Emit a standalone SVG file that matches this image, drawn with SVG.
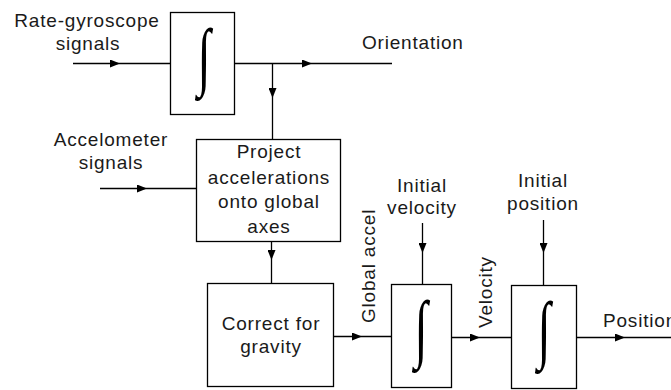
<svg xmlns="http://www.w3.org/2000/svg" width="671" height="390" viewBox="0 0 671 390">
<defs>
<style>
.box{fill:#fff;stroke:#000;stroke-width:1.3}
.ln{fill:none;stroke:#000;stroke-width:1.3;marker-mid:url(#ah)}
.t{font-family:"Liberation Sans",Arial,sans-serif;font-size:19px;letter-spacing:0.8px;fill:#1a1a1a}
.c{text-anchor:middle}
.int{font-family:"Liberation Serif","DejaVu Serif",serif;font-size:60px;fill:#000;text-anchor:middle}
</style>
<marker id="ah" viewBox="0 0 10 8" refX="10" refY="4" markerWidth="10" markerHeight="8" markerUnits="userSpaceOnUse" orient="auto">
<path d="M0,0 L10,4 L0,8 Z" fill="#000"/>
</marker>
</defs>
<rect width="671" height="390" fill="#fff"/>
<g id="connectors">
<path class="ln" d="M73,63.5 L120,63.5 L170,63.5"/>
<path class="ln" d="M235,63.5 L312,63.5 L392,63.5"/>
<path class="ln" d="M272.5,63.5 L272.5,98 L272.5,139"/>
<path class="ln" d="M100,188.5 L147,188.5 L196,188.5"/>
<path class="ln" d="M271.5,242 L271.5,260 L271.5,283"/>
<path class="ln" d="M334,336.5 L362,336.5 L391,336.5"/>
<path class="ln" d="M422.5,223 L422.5,253 L422.5,284"/>
<path class="ln" d="M452,337.5 L480,337.5 L511,337.5"/>
<path class="ln" d="M543.5,220 L543.5,253 L543.5,285"/>
<path class="ln" d="M577,337.5 L625,337.5 L671,337.5"/>
</g>
<g id="gyro-label">
<text class="t c" x="87" y="27">Rate-gyroscope</text>
<text class="t c" x="88" y="50">signals</text>
</g>
<g id="accel-label">
<text class="t c" x="111" y="146">Accelometer</text>
<text class="t c" x="111" y="169">signals</text>
</g>
<g id="integrator1">
<rect class="box" x="170.5" y="12.5" width="64" height="102"/>
<text class="int" transform="translate(204,81) scale(0.8,1.25)">∫</text>
</g>
<g id="orientation-label">
<text class="t" x="362" y="49">Orientation</text>
</g>
<g id="project">
<rect class="box" x="196.5" y="139.5" width="144" height="102"/>
<text class="t c" x="269" y="158">Project</text>
<text class="t c" x="269" y="184">accelerations</text>
<text class="t c" x="269" y="208">onto global</text>
<text class="t c" x="269" y="233">axes</text>
</g>
<g id="gravity">
<rect class="box" x="207.5" y="283.5" width="126" height="103"/>
<text class="t c" x="271" y="330">Correct for</text>
<text class="t c" x="271" y="353">gravity</text>
</g>
<g id="global-accel-label">
<text class="t" transform="translate(375,323) rotate(-90)">Global accel</text>
</g>
<g id="initial-velocity-label">
<text class="t c" x="422" y="192">Initial</text>
<text class="t c" x="422" y="214">velocity</text>
</g>
<g id="integrator2">
<rect class="box" x="391.5" y="284.5" width="60" height="103"/>
<text class="int" transform="translate(421,353) scale(0.8,1.25)">∫</text>
</g>
<g id="velocity-label">
<text class="t" transform="translate(492,328) rotate(-90)">Velocity</text>
</g>
<g id="initial-position-label">
<text class="t c" x="543" y="187">Initial</text>
<text class="t c" x="543" y="210">position</text>
</g>
<g id="integrator3">
<rect class="box" x="511.5" y="285.5" width="65" height="103"/>
<text class="int" transform="translate(544,354) scale(0.8,1.25)">∫</text>
</g>
<g id="position-label">
<text class="t" x="603" y="327">Position</text>
</g>
</svg>
